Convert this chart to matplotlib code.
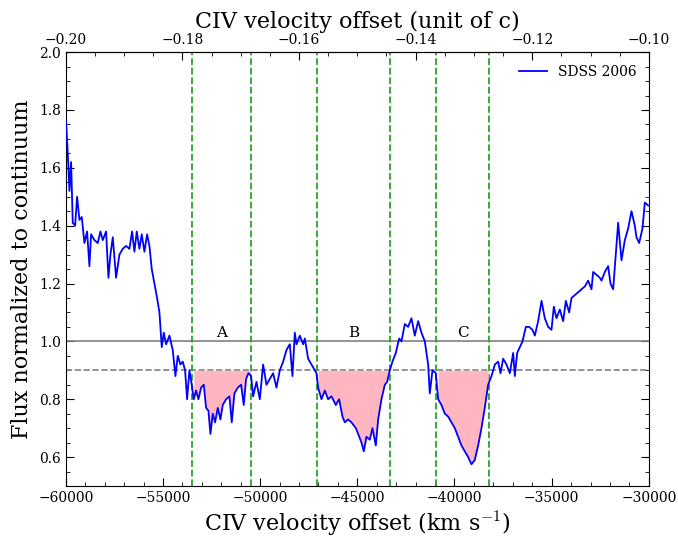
import numpy as np
import matplotlib
matplotlib.use("Agg")
import matplotlib.pyplot as plt
from matplotlib.ticker import AutoMinorLocator

# spectrum (km/s, normalized flux)
velocity = [-59983, -59897, -59812, -59726, -59640, -59520, -59417, -59297, -59177, -59040,
            -58903, -58783, -58697, -58526, -58354, -58217, -58097, -57925, -57805, -57702,
            -57582, -57411, -57239, -57068, -56896, -56725, -56588, -56468, -56347, -56210,
            -56090, -55953, -55816, -55696, -55576, -55439, -55301, -55181, -55061, -54958,
            -54838, -54667, -54495, -54358, -54238, -54101, -53981, -53861, -53758, -53638,
            -53518, -53415, -53295, -53175, -53038, -52900, -52780, -52660, -52557, -52437,
            -52317, -52180, -52043, -51923, -51751, -51580, -51460, -51323, -51151, -50980,
            -50843, -50723, -50602, -50465,
            -50360, -50188, -50017, -49845, -49674, -49502, -49331, -49159, -48988, -48816,
            -48645, -48473, -48336, -48216, -48130, -47959, -47787, -47701, -47530, -47358,
            -47187, -47101, -47015, -46844, -46672, -46501, -46329, -46106, -45935, -45764,
            -45643, -45472, -45300, -45077, -44957, -44786, -44666, -44528, -44357, -44220,
            -44048, -43928, -43757, -43585, -43465, -43328, -43191, -43019, -42848, -42728,
            -42556, -42385, -42213, -42042, -41870, -41699, -41527, -41356, -41270, -41133,
            -40961, -40841, -40670, -40498, -40327, -40155, -39984, -39812, -39641, -39469,
            -39298, -39126, -38955, -38784, -38612, -38441, -38269,
            -38096, -37924, -37753, -37633, -37496, -37324, -37153, -36981, -36895, -36775,
            -36638, -36501, -36329, -36158, -35986, -35866, -35695, -35523, -35352, -35180,
            -35009, -34889, -34752, -34580, -34409, -34271, -34100, -33980, -33808, -33637,
            -33465, -33294, -33122, -32951, -32865, -32694, -32522, -32437, -32265, -32094,
            -31974, -31836, -31699, -31579, -31408, -31236, -31065, -30893, -30722, -30636,
            -30499, -30328, -30208, -30036]
flux = [1.76, 1.65, 1.52, 1.62, 1.41, 1.40, 1.50, 1.42, 1.43, 1.34,
        1.38, 1.26, 1.37, 1.35, 1.34, 1.38, 1.35, 1.38, 1.22, 1.30,
        1.36, 1.22, 1.30, 1.32, 1.33, 1.32, 1.38, 1.31, 1.38, 1.32,
        1.37, 1.31, 1.37, 1.33, 1.25, 1.20, 1.15, 1.10, 0.98, 1.03,
        0.99, 1.02, 0.97, 0.88, 0.95, 0.92, 0.93, 0.90, 0.80, 0.90,
        0.85, 0.80, 0.83, 0.80, 0.84, 0.85, 0.77, 0.76, 0.68, 0.75,
        0.72, 0.77, 0.73, 0.78, 0.80, 0.81, 0.72, 0.82, 0.84, 0.85,
        0.78, 0.87, 0.89, 0.88,
        0.81, 0.86, 0.80, 0.92, 0.85, 0.87, 0.89, 0.84, 0.90, 0.93,
        0.97, 0.99, 0.88, 1.03, 0.99, 1.02, 0.99, 1.01, 0.94, 0.92,
        0.90, 0.89, 0.84, 0.80, 0.83, 0.80, 0.81, 0.78, 0.80, 0.74,
        0.72, 0.73, 0.72, 0.70, 0.68, 0.65, 0.62, 0.67, 0.66, 0.70,
        0.64, 0.73, 0.80, 0.85, 0.86, 0.90, 0.93, 0.96, 1.01, 1.00,
        1.06, 1.05, 1.08, 1.02, 1.07, 1.03, 1.00, 0.92, 0.82, 0.90,
        0.89, 0.80, 0.78, 0.75, 0.74, 0.72, 0.70, 0.67, 0.64, 0.62,
        0.60, 0.575, 0.59, 0.64, 0.70, 0.77, 0.85,
        0.88, 0.92, 0.93, 0.89, 0.94, 0.92, 0.89, 0.96, 0.88, 0.96,
        0.98, 1.00, 1.05, 1.05, 1.04, 1.02, 1.07, 1.14, 1.08, 1.05,
        1.04, 1.12, 1.08, 1.11, 1.07, 1.14, 1.10, 1.15, 1.16, 1.17,
        1.18, 1.19, 1.21, 1.18, 1.24, 1.23, 1.22, 1.21, 1.24, 1.26,
        1.20, 1.18, 1.30, 1.41, 1.28, 1.35, 1.39, 1.45, 1.40, 1.36,
        1.34, 1.39, 1.48, 1.47]

# absorption troughs (km/s)
trough_names = ['A', 'B', 'C']
trough_lo = [-53500, -47050, -40950]
trough_hi = [-50450, -43300, -38200]

c_kms = 300000.0

plt.rcParams['font.family'] = 'serif'
plt.rcParams['font.serif'] = ['DejaVu Serif']
plt.rcParams['mathtext.fontset'] = 'cm'

v = np.array(velocity)
f = np.array(flux)

fig, ax = plt.subplots(figsize=(6.78, 5.43), dpi=100)
fig.subplots_adjust(left=0.097, right=0.957, top=0.904, bottom=0.105)

ax.plot(v, f, color='blue', lw=1.3, label='SDSS 2006', zorder=3)
ax.axhline(1.0, color='gray', lw=1.2)
ax.axhline(0.9, color='gray', lw=1.2, ls='--')

for name, lo, hi in zip(trough_names, trough_lo, trough_hi):
    ax.axvline(lo, color='tab:green', ls='--', lw=1.3)
    ax.axvline(hi, color='tab:green', ls='--', lw=1.3)
    mask = (v >= lo) & (v <= hi)
    ax.fill_between(v[mask], f[mask], 0.9, where=f[mask] < 0.9,
                    interpolate=True, color='lightpink', lw=0, zorder=2)
    ax.text((lo + hi) / 2, 1.005, name, ha='center', va='bottom', fontsize=11)

ax.set_xlim(-60000, -30000)
ax.set_ylim(0.5, 2.0)
ax.set_xlabel(r'CIV velocity offset (km s$^{-1}$)', fontsize=16)
ax.set_ylabel('Flux normalized to continuum', fontsize=16)
ax.xaxis.set_minor_locator(AutoMinorLocator(5))
ax.yaxis.set_minor_locator(AutoMinorLocator(4))
ax.tick_params(which='both', direction='in', right=True, labelsize=10)
ax.tick_params(which='major', length=6)
ax.tick_params(which='minor', length=3)

top = ax.secondary_xaxis('top', functions=(lambda x: x / c_kms, lambda b: b * c_kms))
top.set_xlabel('CIV velocity offset (unit of c)', fontsize=16)
top.xaxis.set_minor_locator(AutoMinorLocator(4))
top.tick_params(which='both', direction='in', labelsize=10)
top.tick_params(which='major', length=6)
top.tick_params(which='minor', length=3)
top.set_xticks([-0.20, -0.18, -0.16, -0.14, -0.12, -0.10])
top.set_xticklabels(['−0.20', '−0.18', '−0.16', '−0.14', '−0.12', '−0.10'])

ax.legend(loc='upper right', frameon=False, fontsize=10)

fig.savefig('out.png', dpi=100)
